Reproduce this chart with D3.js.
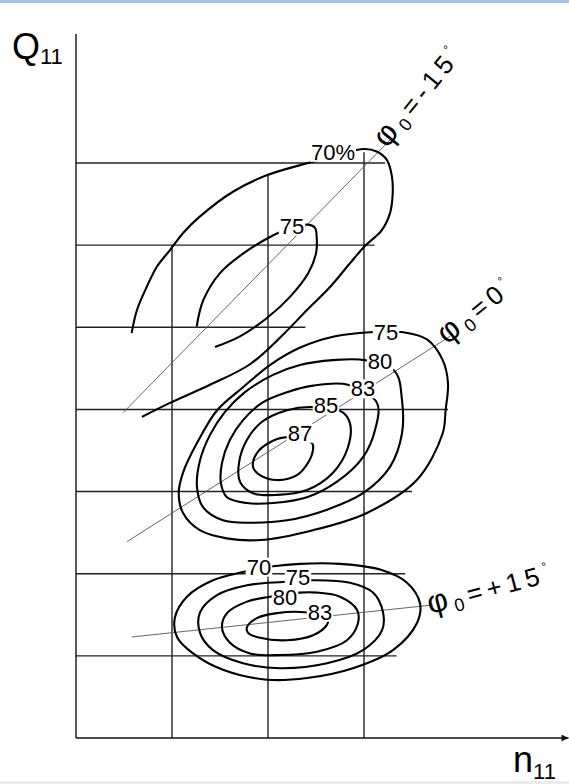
<!DOCTYPE html>
<html>
<head>
<meta charset="utf-8">
<script src="https://cdn.jsdelivr.net/npm/d3@7"></script>
<style>
  body { margin: 0; background: #fff; }
  svg { display: block; }
</style>
</head>
<body>
<svg id="chart" width="569" height="784"></svg>
<script>
// grid lines (n11 in columns, Q11 in rows) and how far each one runs
const nGrid = [1, 2, 3];
const nGridTop = [6, 6.87, 7.13];
const qGrid = [1, 2, 3, 4, 5, 6, 7];
const qGridEnd = [3.34, 3.43, 3.5, 3.875, 2.39, 3.11, 3.22];

// efficiency contours, [n11, Q11] points
// φ0 = -15° (open curves)
const top70 = [[0.58,4.93],[0.635,5.21],[0.736,5.49],[0.844,5.74],[0.979,5.94],[1.125,6.16],[1.292,6.35],[1.635,6.65],[1.986,6.85],[2.417,7.00],[2.708,7.09],[3.0,7.17],[3.132,7.14],[3.236,7.04],[3.289,6.85],[3.299,6.63],[3.271,6.39],[3.184,6.18],[3.01,5.99],[2.854,5.78],[2.646,5.49],[2.406,5.21],[2.156,4.91],[1.8125,4.55],[1.396,4.30],[0.979,4.08],[0.6875,3.91]];
const top75 = [[1.257,5.01],[1.326,5.33],[1.5,5.66],[1.743,5.90],[2.055,6.12],[2.229,6.21],[2.42,6.25],[2.49,6.21],[2.507,6.10],[2.5,5.90],[2.42,5.66],[2.229,5.37],[1.986,5.11],[1.708,4.89],[1.448,4.76]];
// φ0 = 0° (closed)
const mid75 = [[3.41,4.94],[3.66,4.85],[3.82,4.60],[3.875,4.32],[3.85,3.99],[3.82,3.71],[3.55,3.14],[3.03,2.74],[2.47,2.53],[1.92,2.41],[1.57,2.43],[1.29,2.53],[1.115,2.74],[1.07,2.98],[1.115,3.23],[1.26,3.59],[1.47,3.99],[1.74,4.27],[2.02,4.54],[2.33,4.75],[2.70,4.89],[3.06,4.94]];
const mid80 = [[3.323,4.46],[3.396,4.11],[3.396,3.71],[3.271,3.30],[2.99,2.98],[2.615,2.78],[2.198,2.65],[1.8125,2.62],[1.531,2.65],[1.323,2.81],[1.26,3.06],[1.292,3.38],[1.396,3.69],[1.552,3.97],[1.760,4.21],[2.052,4.42],[2.333,4.54],[2.677,4.60],[3.01,4.60]];
const mid83 = [[2.833,4.30],[2.469,4.29],[2.198,4.21],[1.9375,4.08],[1.740,3.87],[1.604,3.63],[1.521,3.35],[1.510,3.10],[1.573,2.93],[1.781,2.86],[2.052,2.86],[2.406,2.93],[2.719,3.12],[2.99,3.42],[3.115,3.75],[3.135,4.08]];
const mid85 = [[2.4375,4.03],[2.198,3.99],[1.9375,3.85],[1.781,3.63],[1.698,3.35],[1.708,3.12],[1.844,2.98],[2.094,2.96],[2.406,3.02],[2.677,3.23],[2.833,3.54],[2.854,3.83],[2.771,3.97]];
const mid87 = [[2.177,3.66],[2.021,3.60],[1.885,3.47],[1.844,3.30],[1.917,3.20],[2.094,3.14],[2.302,3.20],[2.417,3.35],[2.469,3.51],[2.458,3.59]];
// φ0 = +15° (closed)
const bot70 = [[1.740,2.02],[1.427,1.92],[1.156,1.72],[1.031,1.47],[1.052,1.23],[1.219,1.03],[1.531,0.83],[1.990,0.71],[2.406,0.73],[2.885,0.85],[3.302,1.07],[3.552,1.40],[3.583,1.64],[3.448,1.89],[3.167,2.05],[2.75,2.12],[2.333,2.12],[2.052,2.09]];
const bot75 = [[2.156,1.90],[1.781,1.86],[1.469,1.74],[1.292,1.53],[1.292,1.28],[1.427,1.07],[1.740,0.91],[2.125,0.85],[2.615,0.91],[2.99,1.07],[3.1875,1.31],[3.198,1.53],[3.094,1.77],[2.854,1.89],[2.469,1.92]];
const bot80 = [[2.021,1.72],[1.781,1.66],[1.573,1.52],[1.521,1.34],[1.604,1.16],[1.8125,1.03],[2.125,1.01],[2.510,1.05],[2.823,1.19],[2.9375,1.40],[2.927,1.56],[2.75,1.72],[2.510,1.77],[2.333,1.77]];
const bot83 = [[2.385,1.53],[2.094,1.52],[1.885,1.46],[1.781,1.35],[1.792,1.28],[1.917,1.22],[2.198,1.19],[2.469,1.25],[2.615,1.38],[2.625,1.46]];

const contours = [
  {pts: top70, closed: false}, {pts: top75, closed: false},
  {pts: mid75, closed: true}, {pts: mid80, closed: true}, {pts: mid83, closed: true},
  {pts: mid85, closed: true}, {pts: mid87, closed: true},
  {pts: bot70, closed: true}, {pts: bot75, closed: true}, {pts: bot80, closed: true}, {pts: bot83, closed: true}
];

// contour labels: text and [n11, Q11] of its centre
const labelText = ['70%', '75', '75', '80', '83', '85', '87', '70', '75', '80', '83'];
const labelPos = [[2.677,7.13],[2.25,6.23],[3.229,4.94],[3.167,4.58],[2.99,4.25],[2.604,4.05],[2.333,3.71],[1.906,2.08],[2.3125,1.96],[2.177,1.71],[2.542,1.53]];

// guide-vane opening lines
const phiValues = ['-15', '0', '+15'];
const phiLines = [[[0.49,3.96],[3.271,7.28]], [[0.531,2.39],[3.896,4.89]], [[0.583,1.23],[3.719,1.62]]];
const phiAngle = [-51, -39, -15];

const svg = d3.select('#chart');
const width = +svg.attr('width');
const height = +svg.attr('height');
const font = '"Liberation Sans", Arial, sans-serif';

const x = d3.scaleLinear().domain([0, 5]).range([76, 556]);
const y = d3.scaleLinear().domain([0, 7]).range([738, 163]);

// page edges like the screenshot
svg.append('rect').attr('x', 0).attr('y', 0).attr('width', width).attr('height', 3).attr('fill', '#a9c3e6');
svg.append('rect').attr('x', 0).attr('y', height - 3).attr('width', width).attr('height', 3).attr('fill', '#ebebeb');

const defs = svg.append('defs');
defs.append('marker')
  .attr('id', 'arrow')
  .attr('viewBox', '0 0 10 10')
  .attr('refX', 10).attr('refY', 5)
  .attr('markerWidth', 10).attr('markerHeight', 7)
  .attr('markerUnits', 'userSpaceOnUse')
  .attr('orient', 'auto')
  .append('path').attr('d', 'M0,0 L10,5 L0,10 z').attr('fill', '#111');

const g = svg.append('g');

// grid
g.selectAll('.vgrid').data(nGrid).join('line')
  .attr('class', 'vgrid')
  .attr('x1', d => x(d)).attr('x2', d => x(d))
  .attr('y1', y(0)).attr('y2', (d, i) => y(nGridTop[i]))
  .attr('stroke', '#222').attr('stroke-width', 1.4);
g.selectAll('.hgrid').data(qGrid).join('line')
  .attr('class', 'hgrid')
  .attr('x1', x(0)).attr('x2', (d, i) => x(qGridEnd[i]))
  .attr('y1', d => y(d)).attr('y2', d => y(d))
  .attr('stroke', '#222').attr('stroke-width', 1.4);

// axes
g.append('line')
  .attr('x1', x(0)).attr('x2', x(0)).attr('y1', y(0)).attr('y2', y(8.57))
  .attr('stroke', '#111').attr('stroke-width', 1.4);
g.append('line')
  .attr('x1', x(0)).attr('x2', x(5.13)).attr('y1', y(0)).attr('y2', y(0))
  .attr('stroke', '#111').attr('stroke-width', 1.4)
  .attr('marker-end', 'url(#arrow)');

// φ0 lines
const straight = d3.line().x(d => x(d[0])).y(d => y(d[1]));
g.selectAll('.phi').data(phiLines).join('path')
  .attr('class', 'phi')
  .attr('d', straight)
  .attr('fill', 'none').attr('stroke', '#555').attr('stroke-width', 0.9);

// contours
const openLine = d3.line().x(d => x(d[0])).y(d => y(d[1])).curve(d3.curveCatmullRom.alpha(0.5));
const closedLine = d3.line().x(d => x(d[0])).y(d => y(d[1])).curve(d3.curveCatmullRomClosed.alpha(0.5));
g.selectAll('.contour').data(contours).join('path')
  .attr('class', 'contour')
  .attr('d', d => d.closed ? closedLine(d.pts) : openLine(d.pts))
  .attr('fill', 'none').attr('stroke', '#000').attr('stroke-width', 2.1);

// contour labels with white box so the line breaks under them
const labels = g.selectAll('.clabel').data(labelText).join('g').attr('class', 'clabel');
labels.each(function(d, i) {
  const lg = d3.select(this);
  const t = lg.append('text')
    .attr('x', x(labelPos[i][0])).attr('y', y(labelPos[i][1]))
    .attr('text-anchor', 'middle').attr('dominant-baseline', 'central')
    .attr('font-family', font).attr('font-size', 22).attr('fill', '#000')
    .text(d);
  const b = t.node().getBBox();
  lg.insert('rect', 'text')
    .attr('x', b.x - 1).attr('y', b.y + 3).attr('width', b.width + 2).attr('height', b.height - 6)
    .attr('fill', '#fff');
});

// φ0 labels along the line ends
phiValues.forEach((v, i) => {
  const end = phiLines[i][1];
  const t = g.append('text')
    .attr('transform', `translate(${x(end[0]) - 3},${y(end[1]) + 9}) rotate(${phiAngle[i]})`)
    .attr('font-family', font).attr('font-size', 26).attr('fill', '#000')
    .attr('letter-spacing', 5);
  t.append('tspan').attr('font-size', 32).text('\u03C6');
  t.append('tspan').attr('font-size', 18).attr('dy', 5).text('0');
  t.append('tspan').attr('dy', -5).text('=' + v);
  t.append('tspan').attr('font-size', 12).attr('dy', -12).text('\u00B0');
});

// axis titles
const qt = svg.append('text').attr('x', 12).attr('y', 59)
  .attr('font-family', font).attr('font-size', 36).attr('fill', '#000');
qt.append('tspan').text('Q');
qt.append('tspan').attr('font-size', 22).attr('dy', 5).text('11');

const nt = svg.append('text').attr('x', 513).attr('y', 772)
  .attr('font-family', font).attr('font-size', 36).attr('fill', '#000');
nt.append('tspan').text('n');
nt.append('tspan').attr('font-size', 22).attr('dy', 7).text('11');
</script>
</body>
</html>
